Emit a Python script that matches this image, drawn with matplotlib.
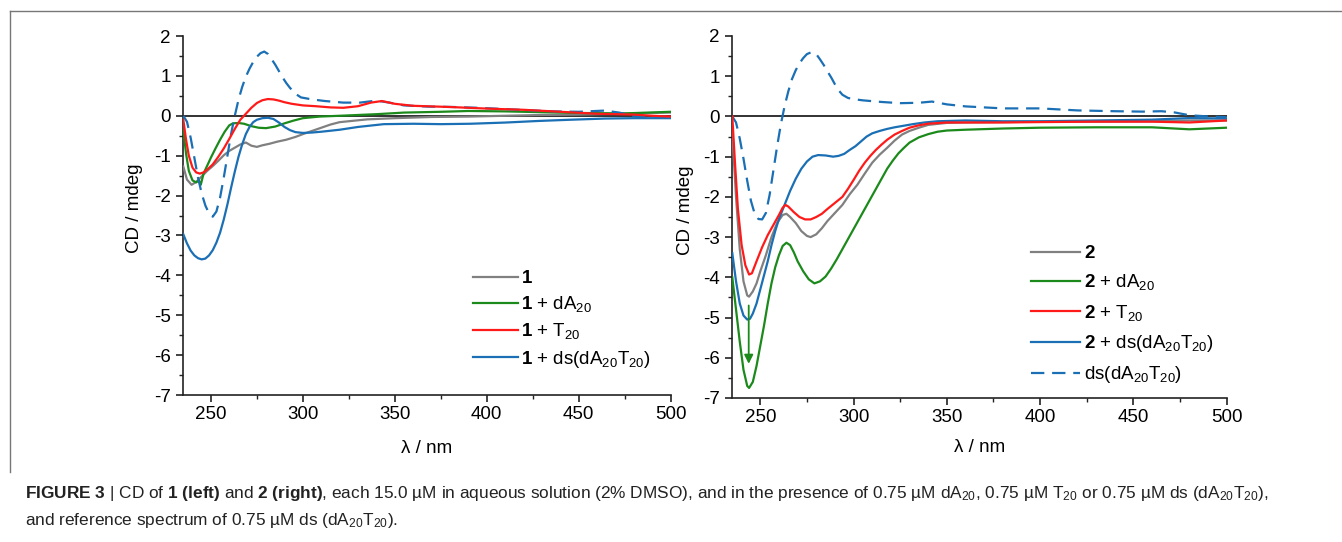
import matplotlib
matplotlib.use("Agg")
import matplotlib.pyplot as plt
from matplotlib.ticker import MultipleLocator
from matplotlib.lines import Line2D

plt.rcParams['font.family'] = ['Liberation Sans', 'DejaVu Sans']
plt.rcParams['mathtext.fontset'] = 'custom'
plt.rcParams['mathtext.rm'] = 'Liberation Sans'
plt.rcParams['mathtext.bf'] = 'Liberation Sans:bold'
plt.rcParams['mathtext.it'] = 'Liberation Sans:italic'
plt.rcParams['axes.unicode_minus'] = False

# ---------------- data: left panel (compound 1) ----------------
wl_L_gray = [235, 237, 239.5, 242, 245, 248, 251, 254, 257, 260, 263, 266, 269, 272, 275, 278, 282,
             286, 291, 296, 300, 305, 310, 315, 320, 335, 350, 370, 390, 410, 430, 450, 470, 490, 500]
cd_L_gray = [-1.27, -1.6, -1.73, -1.66, -1.52, -1.38, -1.26, -1.13, -0.99, -0.88, -0.8, -0.72, -0.67,
             -0.75, -0.78, -0.74, -0.7, -0.65, -0.6, -0.53, -0.46, -0.38, -0.3, -0.22, -0.16, -0.09,
             -0.06, -0.03, -0.02, 0.0, 0.02, 0.03, 0.05, 0.07, 0.08]

wl_L_green = [235, 236.5, 238, 240, 242, 243.5, 244.5, 246, 248, 250, 252.5, 255, 257.5, 260, 262,
              265, 268, 272, 276, 280, 285, 290, 295, 300, 309, 320, 340, 355, 375, 390, 410, 430,
              450, 475, 500]
cd_L_green = [-0.35, -0.95, -1.38, -1.62, -1.67, -1.62, -1.73, -1.45, -1.25, -1.05, -0.82, -0.6, -0.4,
              -0.24, -0.19, -0.18, -0.2, -0.26, -0.3, -0.31, -0.27, -0.19, -0.12, -0.06, -0.02, 0.0,
              0.04, 0.08, 0.1, 0.12, 0.11, 0.09, 0.07, 0.06, 0.1]

wl_L_red = [235, 236.5, 238, 240, 242, 244, 246, 248, 251, 254, 257, 260, 263, 266, 269, 272, 275,
            278, 281, 284, 287, 290, 294, 300, 307, 315, 322, 330, 337, 343, 350, 360, 380, 400, 420,
            440, 460, 480, 490, 500]
cd_L_red = [-0.1, -0.6, -1.0, -1.3, -1.42, -1.45, -1.42, -1.35, -1.22, -1.03, -0.82, -0.58, -0.33,
            -0.1, 0.05, 0.2, 0.32, 0.39, 0.42, 0.41, 0.38, 0.34, 0.3, 0.26, 0.24, 0.21, 0.2, 0.24,
            0.33, 0.37, 0.3, 0.25, 0.22, 0.18, 0.15, 0.1, 0.05, 0.03, 0.0, -0.02]

wl_L_blue = [235, 237, 239, 241, 243, 245, 247, 249, 251, 253, 255, 257, 259, 261, 263, 265, 267, 269,
             271, 273, 275, 278, 281, 284, 287, 290, 293, 296, 300, 305, 310, 320, 330, 344, 360, 375,
             391, 410, 428, 445, 464, 480, 500]
cd_L_blue = [-2.97, -3.2, -3.38, -3.5, -3.57, -3.6, -3.58, -3.5, -3.37, -3.18, -2.93, -2.6, -2.22,
             -1.8, -1.4, -1.03, -0.72, -0.46, -0.28, -0.16, -0.1, -0.06, -0.05, -0.08, -0.17, -0.28,
             -0.36, -0.41, -0.43, -0.42, -0.4, -0.35, -0.28, -0.21, -0.2, -0.21, -0.2, -0.17, -0.13,
             -0.1, -0.07, -0.06, -0.06]

wl_L_ds = [235, 237, 239, 241, 243, 245, 247, 249, 251, 253, 255, 257, 259, 261, 263, 265, 267, 269,
           271, 273, 275, 277, 279, 281, 283, 285, 287, 289, 291, 293, 296, 299, 305, 312, 322, 331,
           340, 347, 355, 368, 382, 395, 409, 422, 436, 450, 464, 472, 482, 490, 500]
cd_L_ds = [0.0, -0.15, -0.55, -1.05, -1.55, -1.95, -2.25, -2.45, -2.53, -2.4, -2.05, -1.55, -1.0,
           -0.45, 0.0, 0.4, 0.72, 0.98, 1.18, 1.35, 1.48, 1.57, 1.61, 1.55, 1.42, 1.28, 1.12, 0.96,
           0.82, 0.7, 0.55, 0.46, 0.41, 0.37, 0.33, 0.33, 0.38, 0.33, 0.26, 0.23, 0.22, 0.2, 0.17,
           0.14, 0.11, 0.1, 0.13, 0.08, -0.03, -0.02, -0.02]

# ---------------- data: right panel (compound 2) ----------------
wl_R_gray = [235, 237, 239, 241, 243, 244, 246, 248, 250, 253, 256, 259, 262, 264, 266, 269, 272,
             275, 277, 280, 283, 286, 290, 294, 298, 302, 306, 310, 314, 318, 322, 326, 330, 335,
             340, 350, 360, 380, 400, 430, 460, 480, 500]
cd_R_gray = [-0.4, -2.0, -3.3, -4.1, -4.45, -4.48, -4.35, -4.15, -3.85, -3.45, -3.0, -2.65, -2.45,
             -2.42, -2.5, -2.65, -2.85, -2.97, -3.0, -2.93, -2.78, -2.6, -2.4, -2.2, -1.93, -1.7,
             -1.42, -1.15, -0.95, -0.78, -0.6, -0.45, -0.36, -0.28, -0.21, -0.16, -0.15, -0.14,
             -0.13, -0.13, -0.12, -0.1, -0.1]

wl_R_green = [235, 237, 239, 241, 243, 244, 246, 248, 250, 252, 254, 256, 258, 260, 262, 264, 266,
              268, 270, 273, 276, 279, 282, 285, 288, 291, 294, 297, 300, 303, 306, 309, 312, 315,
              318, 321, 324, 327, 330, 335, 340, 345, 350, 360, 380, 400, 430, 460, 480, 500]
cd_R_green = [-4.0, -4.8, -5.6, -6.3, -6.7, -6.75, -6.6, -6.2, -5.7, -5.2, -4.65, -4.15, -3.75,
              -3.45, -3.22, -3.14, -3.2, -3.38, -3.6, -3.85, -4.05, -4.15, -4.1, -3.98, -3.78, -3.55,
              -3.3, -3.05, -2.8, -2.55, -2.3, -2.05, -1.8, -1.55, -1.3, -1.1, -0.92, -0.78, -0.65,
              -0.52, -0.44, -0.38, -0.35, -0.33, -0.3, -0.28, -0.27, -0.27, -0.32, -0.28]

wl_R_red = [235, 236.5, 238, 240, 242, 244, 245.5, 248, 251, 254, 257, 260, 262, 263.5, 265, 268,
            271, 274, 277, 280, 283, 286, 290, 294, 297, 300, 303, 306, 309, 312, 315, 318, 322,
            326, 330, 335, 340, 350, 360, 380, 400, 430, 460, 480, 500]
cd_R_red = [0.0, -1.2, -2.3, -3.2, -3.7, -3.93, -3.9, -3.6, -3.25, -2.95, -2.7, -2.45, -2.27, -2.2,
            -2.24, -2.38, -2.5, -2.56, -2.56, -2.5, -2.42, -2.3, -2.15, -2.0, -1.8, -1.58, -1.35,
            -1.15, -0.98, -0.83, -0.7, -0.58, -0.45, -0.36, -0.28, -0.22, -0.18, -0.15, -0.15,
            -0.15, -0.14, -0.13, -0.13, -0.15, -0.1]

wl_R_blue = [235, 237, 239, 241, 243, 244.5, 246, 248, 250, 252, 254, 256, 258, 260, 263, 266, 269,
             272, 275, 278, 281, 285, 289, 292, 295, 298, 301, 304, 307, 310, 314, 318, 322, 327,
             332, 338, 345, 360, 380, 400, 430, 460, 480, 500]
cd_R_blue = [-3.4, -4.1, -4.65, -4.95, -5.05, -5.03, -4.9, -4.65, -4.3, -3.95, -3.6, -3.2, -2.85,
             -2.55, -2.2, -1.85, -1.55, -1.3, -1.12, -1.0, -0.96, -0.97, -1.0, -0.98, -0.93, -0.83,
             -0.74, -0.62, -0.5, -0.42, -0.36, -0.31, -0.27, -0.23, -0.19, -0.15, -0.12, -0.1,
             -0.12, -0.12, -0.1, -0.08, -0.04, -0.05]

wl_R_ds = [235, 237, 239, 241, 243, 245, 247, 249, 251, 253, 255, 257, 259, 261, 263, 265, 267, 269,
           271, 273, 275, 277.5, 280, 282, 284, 286, 288, 290, 292, 294, 297, 300, 305, 310, 315,
           325, 335, 342, 350, 360, 380, 400, 420, 440, 455, 465, 472, 480, 490, 500]
cd_R_ds = [0.0, -0.15, -0.55, -1.05, -1.6, -2.1, -2.42, -2.55, -2.56, -2.4, -1.95, -1.35, -0.75,
           -0.2, 0.25, 0.62, 0.93, 1.15, 1.32, 1.45, 1.55, 1.6, 1.55, 1.42, 1.28, 1.12, 0.97, 0.8,
           0.65, 0.54, 0.46, 0.43, 0.4, 0.38, 0.36, 0.33, 0.34, 0.37, 0.3, 0.25, 0.2, 0.2, 0.15,
           0.13, 0.12, 0.13, 0.1, 0.03, 0.0, -0.02]

# arrow (green) in right panel
arrow_wl = 243.8
arrow_from = -4.7
arrow_to = -6.15

labels_L = [r"$\mathbf{1}$", r"$\mathbf{1}$ + dA$_{20}$", r"$\mathbf{1}$ + T$_{20}$",
            r"$\mathbf{1}$ + ds(dA$_{20}$T$_{20}$)"]
labels_R = [r"$\mathbf{2}$", r"$\mathbf{2}$ + dA$_{20}$", r"$\mathbf{2}$ + T$_{20}$",
            r"$\mathbf{2}$ + ds(dA$_{20}$T$_{20}$)", r"ds(dA$_{20}$T$_{20}$)"]

xlim = (235, 500)
ylim = (-7, 2)
xticks = [250, 300, 350, 400, 450, 500]
yticks = [-7, -6, -5, -4, -3, -2, -1, 0, 1, 2]

C_GRAY = '#808080'
C_GREEN = '#1b8a1b'
C_RED = '#ff1a1a'
C_BLUE = '#1a6fb5'
LW = 1.6
DASH = (0, (6, 3.5))
FS = 13.5

W, H = 1342, 542
fig = plt.figure(figsize=(W / 100, H / 100), dpi=100)

def px_rect(x0, x1, ytop, ybot):
    return [x0 / W, 1 - ybot / H, (x1 - x0) / W, (ybot - ytop) / H]

axL = fig.add_axes(px_rect(183.3, 670.7, 36, 395))
axR = fig.add_axes(px_rect(732.3, 1226.7, 36, 398))

def style(ax, ylab_x, xlab_y):
    ax.set_xlim(*xlim)
    ax.set_ylim(*ylim)
    for s in ('top', 'right'):
        ax.spines[s].set_visible(False)
    for s in ('left', 'bottom'):
        ax.spines[s].set_linewidth(1.2)
        ax.spines[s].set_color('#222222')
    ax.set_xticks(xticks)
    ax.set_yticks(yticks)
    ax.xaxis.set_minor_locator(MultipleLocator(25))
    ax.yaxis.set_minor_locator(MultipleLocator(0.5))
    ax.tick_params(which='major', direction='out', length=5, width=1.2, labelsize=FS,
                   color='#222222', pad=3)
    ax.tick_params(which='minor', direction='out', length=3, width=1.0, color='#222222')
    ax.tick_params(axis='y', which='major', pad=4)
    ax.axhline(0, color='#222222', lw=1.3, zorder=1)
    ax.set_ylabel('CD / mdeg', fontsize=FS)
    ax.yaxis.set_label_coords(ylab_x, 0.52)
    ax.set_xlabel('λ / nm', fontsize=FS)
    ax.xaxis.set_label_coords(0.5, xlab_y)
    ax.patch.set_alpha(0)

style(axL, -0.083, -0.125)
style(axR, -0.078, -0.113)

# left panel curves
h1 = axL.plot(wl_L_gray, cd_L_gray, color=C_GRAY, lw=LW, zorder=3)[0]
h2 = axL.plot(wl_L_green, cd_L_green, color=C_GREEN, lw=LW, zorder=3)[0]
h3 = axL.plot(wl_L_red, cd_L_red, color=C_RED, lw=LW, zorder=4)[0]
h4 = axL.plot(wl_L_blue, cd_L_blue, color=C_BLUE, lw=LW, zorder=3)[0]
axL.plot(wl_L_ds, cd_L_ds, color=C_BLUE, lw=LW, ls=DASH, zorder=3)

legL = axL.legend([h1, h2, h3, h4], labels_L, loc='upper left',
                  bbox_to_anchor=(473 / W, 1 - 270 / H), bbox_transform=fig.transFigure,
                  frameon=False, fontsize=FS, handlelength=2.4, handletextpad=0.15,
                  labelspacing=0.38, borderpad=0, borderaxespad=0)

# right panel curves
g1 = axR.plot(wl_R_gray, cd_R_gray, color=C_GRAY, lw=LW, zorder=3)[0]
g2 = axR.plot(wl_R_green, cd_R_green, color=C_GREEN, lw=LW, zorder=3)[0]
g3 = axR.plot(wl_R_red, cd_R_red, color=C_RED, lw=LW, zorder=4)[0]
g4 = axR.plot(wl_R_blue, cd_R_blue, color=C_BLUE, lw=LW, zorder=3)[0]
g5 = axR.plot(wl_R_ds, cd_R_ds, color=C_BLUE, lw=LW, ls=DASH, zorder=3)[0]
axR.annotate('', xy=(arrow_wl, arrow_to), xytext=(arrow_wl, arrow_from),
             arrowprops=dict(arrowstyle='-|>', color=C_GREEN, lw=1.3, mutation_scale=13,
                             shrinkA=0, shrinkB=0), zorder=5)

legR = axR.legend([g1, g2, g3, g4, g5], labels_R, loc='upper left',
                  bbox_to_anchor=(1031 / W, 1 - 245 / H), bbox_transform=fig.transFigure,
                  frameon=False, fontsize=FS, handlelength=2.6, handletextpad=0.2,
                  labelspacing=0.55, borderpad=0, borderaxespad=0)

# frame lines of the figure box
fig.add_artist(Line2D([9.5 / W, 1.0], [1 - 10.5 / H, 1 - 10.5 / H], transform=fig.transFigure,
                      color='#777777', lw=1.0))
fig.add_artist(Line2D([9.5 / W, 9.5 / W], [1 - 10.5 / H, 1 - 472 / H], transform=fig.transFigure,
                      color='#777777', lw=1.0))

cap1 = (r"$\mathbf{FIGURE\ 3}$ | CD of $\mathbf{1\ (left)}$ and $\mathbf{2\ (right)}$, each 15.0 µM in "
        r"aqueous solution (2% DMSO), and in the presence of 0.75 µM dA$_{20}$, 0.75 µM T$_{20}$ or "
        r"0.75 µM ds (dA$_{20}$T$_{20}$),")
cap2 = r"and reference spectrum of 0.75 µM ds (dA$_{20}$T$_{20}$)."
fig.text(25 / W, 1 - 498 / H, cap1, fontsize=12.4, ha='left', va='baseline', color='#222222')
fig.text(25 / W, 1 - 525 / H, cap2, fontsize=12.4, ha='left', va='baseline', color='#222222')

fig.savefig('out.png', dpi=100)
